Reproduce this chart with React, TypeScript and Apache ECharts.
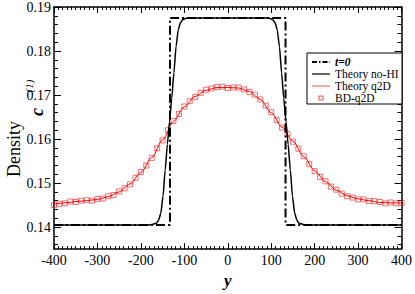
import React, { useEffect, useRef } from "react";
import * as echarts from "echarts";

const FONT = "Liberation Serif, Times New Roman, serif";

const xTicks = [-400, -300, -200, -100, 0, 100, 200, 300, 400];
const yTicks = [0.14, 0.15, 0.16, 0.17, 0.18, 0.19];
const yMinorTicks = [
  0.136, 0.138, 0.142, 0.144, 0.146, 0.148, 0.152, 0.154, 0.156, 0.158,
  0.162, 0.164, 0.166, 0.168, 0.172, 0.174, 0.176, 0.178, 0.182, 0.184,
  0.186, 0.188,
];

// t = 0 initial step profile
const t0X = [-400, -133, -133, 133, 133, 400];
const t0Y = [0.1405, 0.1405, 0.1875, 0.1875, 0.1405, 0.1405];

// Theory no-HI
const noHiX = [
  -400, -184, -174, -164, -159, -154, -149, -144, -139, -134, -129, -124,
  -119, -114, -109, -104, -94, -84, 84, 94, 104, 109, 114, 119, 124, 129,
  134, 139, 144, 149, 154, 159, 164, 174, 184, 400,
];
const noHiY = [
  0.1405, 0.1405, 0.1406, 0.1409, 0.1416, 0.1432, 0.147, 0.153, 0.1588,
  0.164, 0.1692, 0.175, 0.181, 0.1848, 0.1864, 0.1871, 0.1875, 0.1875,
  0.1875, 0.1875, 0.1871, 0.1864, 0.1848, 0.181, 0.175, 0.1692, 0.164,
  0.1588, 0.153, 0.147, 0.1432, 0.1416, 0.1409, 0.1406, 0.1405, 0.1405,
];

// Theory q2D
const q2dX = [
  -400, -375, -350, -325, -300, -275, -250, -225, -200, -175, -150, -125,
  -100, -75, -50, -25, 0, 25, 50, 75, 100, 125, 150, 175, 200, 225, 250, 275,
  300, 325, 350, 375, 400,
];
const q2dY = [
  0.1452, 0.1455, 0.1458, 0.146, 0.1463, 0.1469, 0.148, 0.1498, 0.1524,
  0.1558, 0.1598, 0.164, 0.1673, 0.1697, 0.1711, 0.1717, 0.1717, 0.1716,
  0.1708, 0.169, 0.166, 0.1627, 0.1595, 0.156, 0.1528, 0.1503, 0.1484,
  0.1471, 0.1464, 0.146, 0.1456, 0.1455, 0.1455,
];

// BD-q2D simulation points
const bdX = [
  -400, -387.5, -375, -362.5, -350, -337.5, -325, -312.5, -300, -287.5, -275,
  -262.5, -250, -237.5, -225, -212.5, -200, -187.5, -175, -162.5, -150,
  -137.5, -125, -112.5, -100, -87.5, -75, -62.5, -50, -37.5, -25, -12.5, 0,
  12.5, 25, 37.5, 50, 62.5, 75, 87.5, 100, 112.5, 125, 137.5, 150, 162.5,
  175, 187.5, 200, 212.5, 225, 237.5, 250, 262.5, 275, 287.5, 300, 312.5,
  325, 337.5, 350, 362.5, 375, 387.5, 400,
];
const bdY = [
  0.145, 0.1453, 0.1454, 0.1458, 0.1457, 0.146, 0.1461, 0.146, 0.1464,
  0.1465, 0.147, 0.1473, 0.1481, 0.1488, 0.1497, 0.1512, 0.1525, 0.154,
  0.1557, 0.1579, 0.1597, 0.162, 0.1641, 0.1657, 0.1674, 0.1686, 0.1696,
  0.1705, 0.1712, 0.1715, 0.1718, 0.1719, 0.1716, 0.1717, 0.1717, 0.1713,
  0.1707, 0.1701, 0.169, 0.1676, 0.1661, 0.1643, 0.1626, 0.1612, 0.1594,
  0.1578, 0.1561, 0.1543, 0.1527, 0.1514, 0.1504, 0.1492, 0.1485, 0.1476,
  0.147, 0.1467, 0.1463, 0.1463, 0.1459, 0.1459, 0.1457, 0.1454, 0.1456,
  0.1454, 0.1455,
];

const legendLabels = ["t=0", "Theory no-HI", "Theory q2D", "BD-q2D"];

const zip = (xs: number[], ys: number[]) => xs.map((x, i) => [x, ys[i]]);

const Y_MIN = 0.135;
const Y_MAX = 0.19;

const labelRich = {
  t: { fontFamily: FONT, fontSize: 14, color: "#000" },
};

function xAxisCfg(pos: "bottom" | "top", labels: boolean) {
  return {
    type: "value",
    position: pos,
    min: xTicks[0],
    max: xTicks[xTicks.length - 1],
    interval: 100,
    axisLine: { show: true, onZero: false, lineStyle: { color: "#000", width: 1.5 } },
    axisTick: { show: true, inside: true, length: 6, lineStyle: { color: "#000", width: 1 } },
    minorTick: { show: true, splitNumber: 10, length: 3, lineStyle: { color: "#000", width: 1 } },
    axisLabel: {
      show: labels,
      color: "#000",
      fontFamily: FONT,
      fontSize: 14,
      margin: 4,
      rich: labelRich,
      formatter: (v: number) => `{t|${v}}`,
    },
    splitLine: { show: false },
    ...(labels
      ? {
          name: "y",
          nameLocation: "middle",
          nameGap: 21,
          nameTextStyle: {
            color: "#000",
            fontFamily: FONT,
            fontSize: 17,
            fontWeight: "bold",
            fontStyle: "italic",
          },
        }
      : {}),
  };
}

function yAxisCfg(pos: "left" | "right", major: boolean, labels: boolean) {
  return {
    type: "value",
    position: pos,
    min: Y_MIN,
    max: Y_MAX,
    axisLine: { show: major, onZero: false, lineStyle: { color: "#000", width: 1.5 } },
    axisTick: {
      show: true,
      inside: true,
      length: major ? 7 : 4,
      customValues: major ? yTicks : yMinorTicks,
      lineStyle: { color: "#000", width: 1 },
    },
    axisLabel: {
      show: labels,
      customValues: yTicks,
      color: "#000",
      fontFamily: FONT,
      fontSize: 14,
      margin: 3,
      rich: labelRich,
      formatter: (v: number) => `{t|${v.toFixed(2)}}`,
    },
    splitLine: { show: false },
  };
}

export default function App() {
  const ref = useRef<HTMLDivElement>(null);
  useEffect(() => {
    if (!ref.current) return;
    const chart = echarts.init(ref.current, null, { renderer: "svg" });
    const lx = 307;
    const ly = 53;
    const rows = [62, 74, 86, 98];
    const textX = lx + 28;
    const legendText = (i: number, extra: any = {}) => ({
      type: "text",
      x: textX,
      y: rows[i],
      style: {
        text: legendLabels[i],
        fontFamily: FONT,
        fontSize: 11.5,
        lineHeight: 11,
        fill: "#000",
        verticalAlign: "middle",
        ...extra,
      },
      z: 101,
    });
    chart.setOption({
      animation: false,
      backgroundColor: "#fff",
      textStyle: { fontFamily: FONT },
      grid: { left: 54, right: 11, top: 6, bottom: 31, containLabel: false },
      xAxis: [xAxisCfg("bottom", true), xAxisCfg("top", false)],
      yAxis: [
        yAxisCfg("left", true, true),
        yAxisCfg("left", false, false),
        yAxisCfg("right", true, false),
        yAxisCfg("right", false, false),
      ],
      series: [
        {
          name: "BD-q2D",
          type: "scatter",
          data: zip(bdX, bdY),
          symbol: "rect",
          symbolSize: 5,
          itemStyle: { color: "rgba(255,255,255,0)", borderColor: "rgba(255,30,30,0.8)", borderWidth: 1 },
          z: 2,
        },
        {
          name: "Theory q2D",
          type: "line",
          data: zip(q2dX, q2dY),
          symbol: "none",
          smooth: 0.3,
          smoothMonotone: "x",
          lineStyle: { color: "#ff0000", width: 1 },
          z: 3,
        },
        {
          name: "Theory no-HI",
          type: "line",
          data: zip(noHiX, noHiY),
          symbol: "none",
          smooth: 0.2,
          smoothMonotone: "x",
          lineStyle: { color: "#000", width: 1.5 },
          z: 4,
        },
        {
          name: "t=0",
          type: "line",
          data: zip(t0X, t0Y),
          symbol: "none",
          lineStyle: { color: "#000", width: 2, type: [9, 3, 2, 3] },
          z: 5,
        },
      ],
      graphic: [
        // y axis title
        {
          type: "text",
          x: 14,
          y: 149,
          rotation: Math.PI / 2,
          style: {
            text: "Density",
            fontFamily: FONT,
            fontSize: 18,
            fill: "#000",
            align: "center",
            verticalAlign: "middle",
          },
        },
        {
          type: "text",
          x: 37,
          y: 112,
          rotation: Math.PI / 2,
          style: {
            text: "c",
            fontFamily: FONT,
            fontSize: 18,
            fontWeight: "bold",
            fontStyle: "italic",
            fill: "#000",
            align: "center",
            verticalAlign: "middle",
          },
        },
        {
          type: "text",
          x: 29,
          y: 86,
          rotation: Math.PI / 2,
          style: {
            text: "(1)",
            fontFamily: FONT,
            fontSize: 11,
            fontStyle: "italic",
            fill: "#000",
            align: "center",
            verticalAlign: "middle",
          },
        },
        // legend box
        {
          type: "rect",
          shape: { x: lx, y: ly, width: 95, height: 51 },
          style: { fill: "#fff", stroke: "#000", lineWidth: 1 },
          z: 100,
        },
        {
          type: "line",
          shape: { x1: lx + 5, y1: rows[0], x2: lx + 23, y2: rows[0] },
          style: { stroke: "#000", lineWidth: 2, lineDash: [5, 2, 1.5, 2] },
          z: 101,
        },
        legendText(0, { fontWeight: "bold", fontStyle: "italic" }),
        {
          type: "line",
          shape: { x1: lx + 5, y1: rows[1], x2: lx + 23, y2: rows[1] },
          style: { stroke: "#000", lineWidth: 1.2 },
          z: 101,
        },
        legendText(1),
        {
          type: "line",
          shape: { x1: lx + 5, y1: rows[2], x2: lx + 23, y2: rows[2] },
          style: { stroke: "#ff5050", lineWidth: 1 },
          z: 101,
        },
        legendText(2),
        {
          type: "rect",
          shape: { x: lx + 12, y: rows[3] - 2, width: 4, height: 4 },
          style: { fill: "rgba(255,255,255,0)", stroke: "rgba(255,30,30,0.8)", lineWidth: 1 },
          z: 101,
        },
        legendText(3),
      ],
    });
    return () => chart.dispose();
  }, []);
  return (
    <div
      ref={ref}
      style={{ position: "fixed", left: 0, top: 0, width: 415, height: 294 }}
    />
  );
}
